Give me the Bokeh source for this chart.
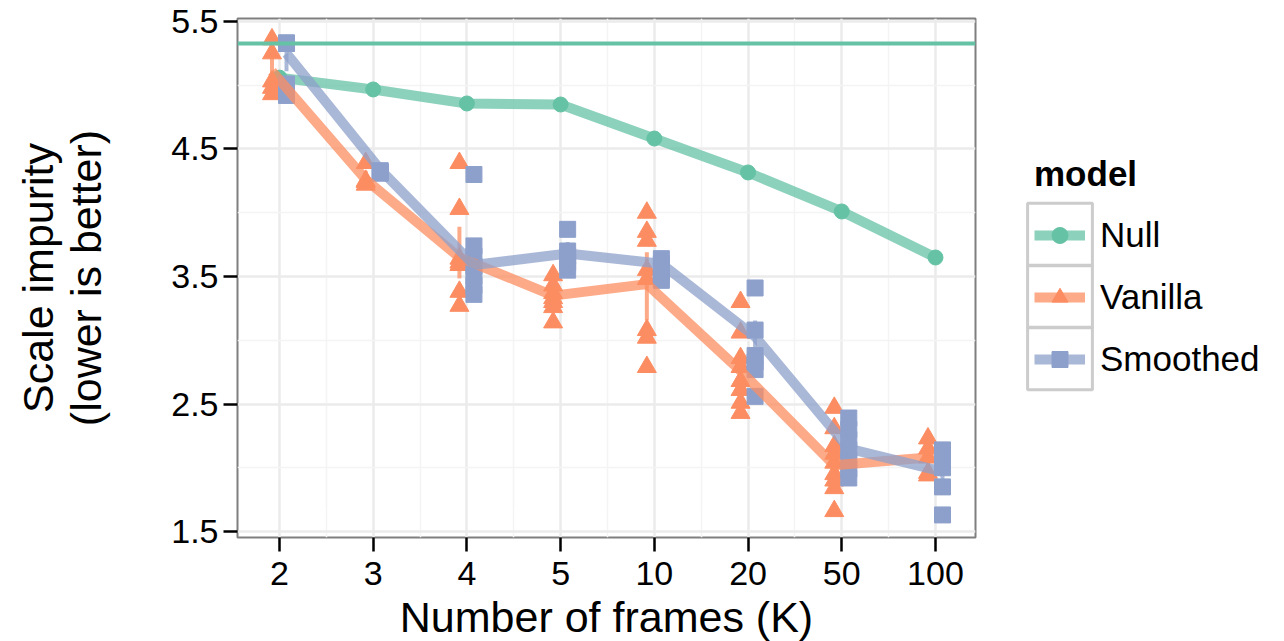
import numpy as np
from bokeh.plotting import figure
from bokeh.layouts import row
from bokeh.models import ColumnDataSource, FixedTicker, Span, Legend, LegendItem, Range1d
from bokeh.embed import file_html
from bokeh.resources import INLINE

# ---------------- data ----------------
frames = ["2", "3", "4", "5", "10", "20", "50", "100"]
models = ["Null", "Vanilla", "Smoothed"]

null_baseline = 5.327
null_mean = [5.06, 4.967, 4.857, 4.849, 4.582, 4.316, 4.01, 3.649]

vanilla_mean = [5.11, 4.26, 3.65, 3.35, 3.44, 2.76, 2.02, 2.08]
vanilla_lo = [5.00, 4.20, 3.485, 3.28, 3.155, 2.62, 1.92, 2.00]
vanilla_hi = [5.22, 4.33, 3.89, 3.42, 3.69, 2.92, 2.14, 2.15]

smoothed_mean = [5.25, 4.34, 3.59, 3.68, 3.60, 3.03, 2.15, 1.97]
smoothed_lo = [5.11, 4.30, 3.40, 3.58, 3.52, 2.89, 2.03, 1.80]
smoothed_hi = [5.39, 4.37, 3.78, 3.77, 3.66, 3.155, 2.27, 2.12]

vanilla_runs = [
    [5.36, 5.25, 5.03, 4.98, 4.93],
    [4.39, 4.25, 4.24, 4.22],
    [4.39, 4.03, 3.64, 3.61, 3.59, 3.38, 3.27],
    [3.51, 3.43, 3.37, 3.33, 3.30, 3.26, 3.14],
    [4.00, 3.85, 3.78, 3.55, 3.48, 3.08, 3.02, 2.79],
    [3.30, 3.06, 2.86, 2.79, 2.68, 2.61, 2.51, 2.43],
    [2.47, 2.31, 2.17, 2.11, 2.04, 1.95, 1.90, 1.84, 1.66],
    [2.23, 2.15, 2.08, 1.96, 1.94],
]
smoothed_runs = [
    [5.33, 5.33, 5.33, 5.33, 5.01, 4.96, 4.92],
    [4.33, 4.32, 4.31],
    [4.30, 3.74, 3.66, 3.58, 3.50, 3.43, 3.36],
    [3.87, 3.70, 3.66, 3.61, 3.55],
    [3.64, 3.60, 3.55, 3.51, 3.47],
    [3.41, 3.08, 2.88, 2.83, 2.77, 2.56],
    [2.39, 2.30, 2.22, 2.14, 2.06, 1.99, 1.92],
    [2.14, 2.07, 2.00, 1.85, 1.63],
]

# ---------------- styling ----------------
C_NULL, C_VAN, C_SMO = "#66c2a5", "#fc8d62", "#8da0cb"
FONT = "Liberation Sans"
DODGE_V, DODGE_S = -0.08, 0.075

idx = np.arange(1, len(frames) + 1, dtype=float)

p = figure(
    x_range=Range1d(0.552, 8.427), y_range=Range1d(1.453, 5.5235),
    frame_width=738, frame_height=519,
    min_border_left=237, min_border_right=10, min_border_top=18, min_border_bottom=104,
    output_backend="svg", toolbar_location=None,
    background_fill_color="white", border_fill_color="white",
)
p.outline_line_color = "#7f7f7f"
p.outline_line_width = 2

p.xaxis.ticker = FixedTicker(ticks=list(idx), minor_ticks=list(idx[:-1] + 0.5))
p.yaxis.ticker = FixedTicker(ticks=[1.5, 2.5, 3.5, 4.5, 5.5], minor_ticks=[2.0, 3.0, 4.0, 5.0])
for g in (p.xgrid, p.ygrid):
    g.grid_line_color = "#ebebeb"
    g.grid_line_width = 2.5
    g.minor_grid_line_color = "#f4f4f4"
    g.minor_grid_line_width = 1.5

p.xaxis.major_label_overrides = {float(i): f for i, f in zip(idx, frames)}
p.xaxis.major_label_overrides.update({int(i): f for i, f in zip(idx, frames)})

for ax in (p.xaxis, p.yaxis):
    ax.axis_line_color = None
    ax.major_tick_line_color = "black"
    ax.major_tick_line_width = 2.5
    ax.major_tick_in = 0
    ax.minor_tick_line_color = None
    ax.major_label_text_font = FONT
    ax.major_label_text_font_size = "34px"
    ax.major_label_text_color = "black"
    ax.axis_label_text_font = FONT
    ax.axis_label_text_font_style = "normal"
    ax.axis_label_text_font_size = "43px"
    ax.axis_label_text_color = "black"

p.xaxis.major_tick_out = 14
p.xaxis.major_label_standoff = 10
p.xaxis.axis_label = "Number of frames (K)"
p.xaxis.axis_label_standoff = 5
p.yaxis.major_tick_out = 14
p.yaxis.major_label_standoff = 5
p.yaxis.axis_label = "Scale impurity\n(lower is better)"
p.yaxis.axis_label_standoff = 58
p.yaxis.axis_label_text_line_height = 1.0

# ---------------- marks ----------------
p.add_layout(Span(location=null_baseline, dimension="width", line_color=C_NULL, line_width=4))

null_src = ColumnDataSource(dict(x=idx, y=null_mean))
p.line("x", "y", source=null_src, line_color=C_NULL, line_width=10, line_alpha=0.75, line_join="round")
p.scatter("x", "y", source=null_src, marker="circle", size=15, color=C_NULL)

def flat(runs, dodge):
    xs, ys = [], []
    for i, vals in enumerate(runs):
        xs += [idx[i] + dodge] * len(vals)
        ys += vals
    return ColumnDataSource(dict(x=xs, y=ys))

van_pts_src = flat(vanilla_runs, DODGE_V)
smo_pts_src = flat(smoothed_runs, DODGE_S)
p.scatter("x", "y", source=van_pts_src, marker="triangle", size=19, color=C_VAN)
p.scatter("x", "y", source=smo_pts_src, marker="square", size=16, color=C_SMO)

van_src = ColumnDataSource(dict(x=idx + DODGE_V, y=vanilla_mean, lo=vanilla_lo, hi=vanilla_hi))
smo_src = ColumnDataSource(dict(x=idx + DODGE_S, y=smoothed_mean, lo=smoothed_lo, hi=smoothed_hi))

p.segment(x0="x", y0="lo", x1="x", y1="hi", source=van_src, line_color=C_VAN, line_width=4, line_alpha=0.75)
p.segment(x0="x", y0="lo", x1="x", y1="hi", source=smo_src, line_color=C_SMO, line_width=4, line_alpha=0.75)

p.line("x", "y", source=van_src, line_color=C_VAN, line_width=10, line_alpha=0.75, line_join="round")
p.line("x", "y", source=smo_src, line_color=C_SMO, line_width=10, line_alpha=0.75, line_join="round")

# ---------------- legend panel (separate figure to the right) ----------------
lg = figure(
    width=299, height=641, min_border=0,
    x_range=Range1d(-20, -19), y_range=Range1d(-20, -19),
    x_axis_location=None, y_axis_location=None,
    output_backend="svg", toolbar_location=None,
    background_fill_color="white", border_fill_color="white",
)
lg.outline_line_color = None
lg.grid.visible = False

# legend renderers (same styles, data out of this panel's view)
k_null_l = lg.line("x", "y", source=null_src, line_color=C_NULL, line_width=10, line_alpha=0.75)
k_null_p = lg.scatter("x", "y", source=null_src, marker="circle", size=15, color=C_NULL)
k_van_l = lg.line("x", "y", source=van_src, line_color=C_VAN, line_width=10, line_alpha=0.75)
k_van_p = lg.scatter("x", "y", source=van_pts_src, marker="triangle", size=19, color=C_VAN)
k_smo_l = lg.line("x", "y", source=smo_src, line_color=C_SMO, line_width=10, line_alpha=0.75)
k_smo_p = lg.scatter("x", "y", source=smo_pts_src, marker="square", size=16, color=C_SMO)
k_box = lg.quad(left="x", right="x", bottom="y", top="y", source=null_src,
                fill_color=None, line_color="#cccccc", line_width=3)

# one key box per legend entry
for i, _ in enumerate(models):
    lg.add_layout(Legend(
        items=[LegendItem(label=" ", renderers=[k_box])],
        location=(34, 262 - 62 * i), glyph_width=81, glyph_height=78, spacing=0,
        padding=0, margin=0, border_line_color=None, background_fill_alpha=0,
        label_text_font_size="2px", label_standoff=0, label_width=0, label_height=0,
    ))

leg = Legend(
    items=[
        LegendItem(label=models[0], renderers=[k_null_l, k_null_p]),
        LegendItem(label=models[1], renderers=[k_van_l, k_van_p]),
        LegendItem(label=models[2], renderers=[k_smo_l, k_smo_p]),
    ],
    location=(49, 156), title="model",
    glyph_width=51, glyph_height=40, spacing=22, padding=0, margin=0,
    label_standoff=15, label_text_font=FONT, label_text_font_size="35px", label_text_color="black",
    title_text_font=FONT, title_text_font_size="35px", title_text_font_style="bold",
    title_text_color="black",
    title_standoff=21, border_line_color=None, background_fill_alpha=0,
)
lg.add_layout(leg)

layout = row(p, lg)
open("out.html", "w").write(file_html(layout, INLINE))
